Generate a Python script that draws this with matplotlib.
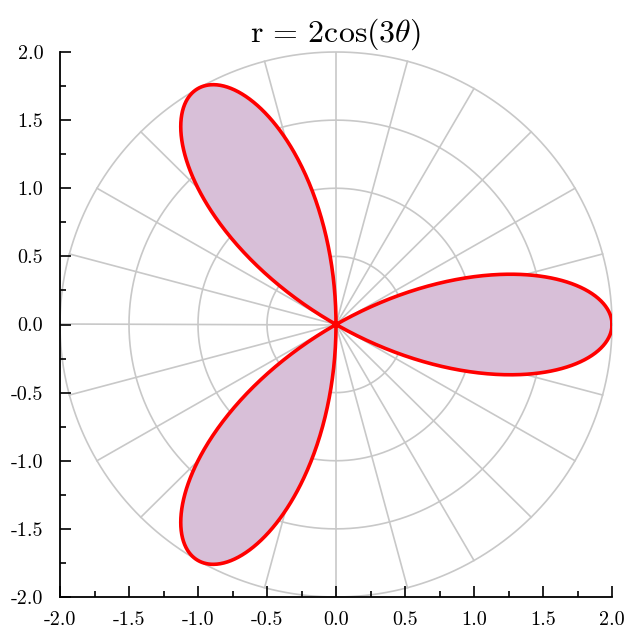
import numpy as np
import matplotlib
matplotlib.use("Agg")
import matplotlib.pyplot as plt

# Curve definition: r = amplitude * cos(petal_factor * theta)
amplitude = 2.0
petal_factor = 3
theta_range = (0.0, np.pi)

# Polar grid
grid_radii = [0.5, 1.0, 1.5, 2.0]
spoke_angles_deg = list(range(0, 360, 15))

# Axis ticks
major_ticks = [-2.0, -1.5, -1.0, -0.5, 0.0, 0.5, 1.0, 1.5, 2.0]
minor_ticks = [-1.75, -1.25, -0.75, -0.25, 0.25, 0.75, 1.25, 1.75]
tick_labels = ["-2.0", "-1.5", "-1.0", "-0.5", "0.0", "0.5", "1.0", "1.5", "2.0"]

plt.rcParams['font.family'] = ['cmr10', 'DejaVu Serif']
plt.rcParams['mathtext.fontset'] = 'cm'
plt.rcParams['axes.unicode_minus'] = False

fig = plt.figure(figsize=(6.35, 6.35), dpi=100)
ax = fig.add_axes([60/635, 38/635, 552/635, 545/635])

grid_color = '#c8c8c8'
t = np.linspace(0, 2*np.pi, 721)
for r in grid_radii:
    ax.plot(r*np.cos(t), r*np.sin(t), color=grid_color, lw=1.2, zorder=1, clip_on=False)
rmax = max(grid_radii)
for a in spoke_angles_deg:
    ar = np.deg2rad(a)
    ax.plot([0, rmax*np.cos(ar)], [0, rmax*np.sin(ar)], color=grid_color, lw=1.2, zorder=1)

th = np.linspace(theta_range[0], theta_range[1], 1500)
rr = amplitude*np.cos(petal_factor*th)
x = rr*np.cos(th)
y = rr*np.sin(th)
ax.fill(x, y, color='#d8bfd8', zorder=2, lw=0)
ax.plot(x, y, color='red', lw=2.6, zorder=3)

ax.set_xlim(-2, 2)
ax.set_ylim(-2, 2)
for s in ['top', 'right']:
    ax.spines[s].set_visible(False)
for s in ['left', 'bottom']:
    ax.spines[s].set_linewidth(1.3)
    ax.spines[s].set_zorder(5)

ax.set_xticks(major_ticks)
ax.set_xticklabels(tick_labels)
ax.set_yticks(major_ticks)
ax.set_yticklabels(tick_labels)
ax.set_xticks(minor_ticks, minor=True)
ax.set_yticks(minor_ticks, minor=True)
ax.tick_params(which='major', direction='in', length=8, width=1.2, labelsize=14.5)
ax.tick_params(which='minor', direction='in', length=4, width=1.2)
ax.tick_params(axis='x', which='major', pad=10)
ax.tick_params(axis='y', which='major', pad=12)

ax.set_title(r'$\mathrm{r}\,=\,2\cos(3\theta)$', fontsize=23, pad=7)

fig.savefig('out.png', dpi=100)
